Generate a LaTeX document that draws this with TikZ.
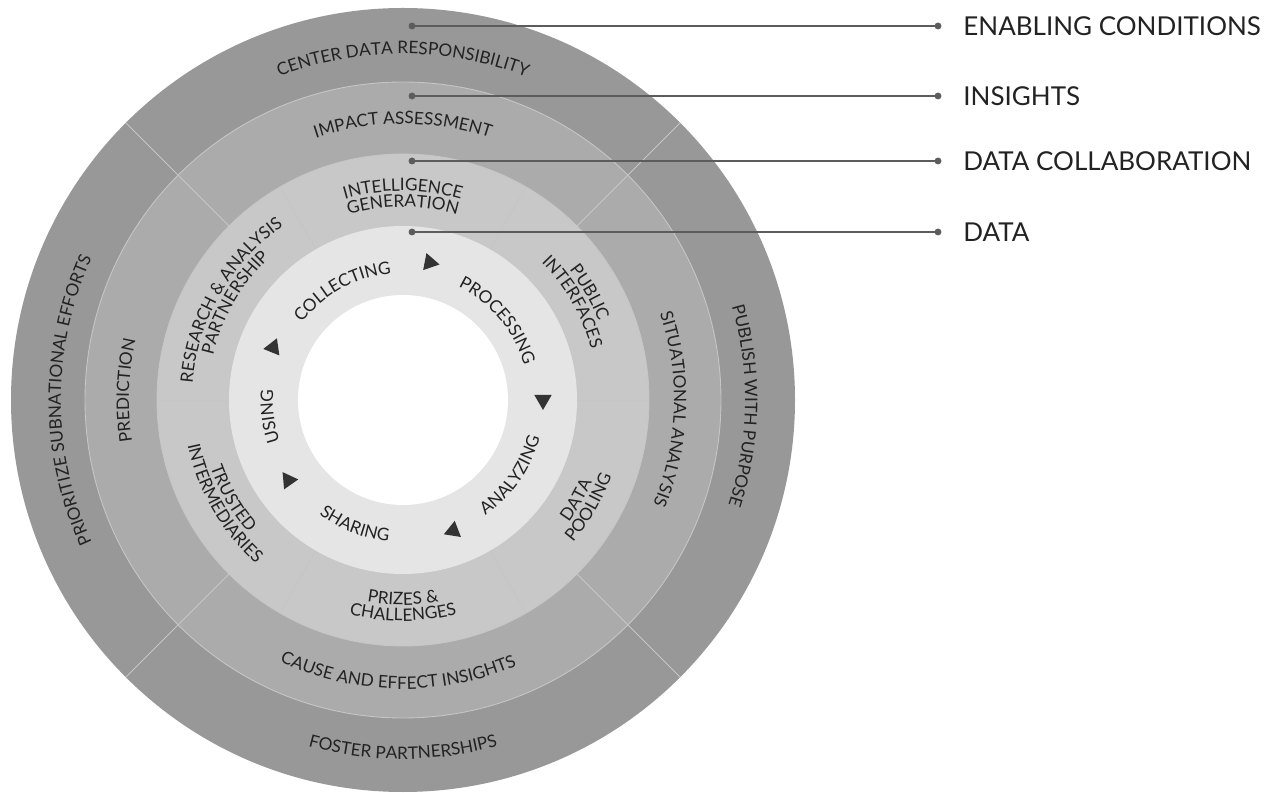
\documentclass[tikz,border=0pt]{standalone}
\usepackage{fontspec}
\setmainfont{Lato}
\usetikzlibrary{decorations.text,positioning}

\definecolor{ringouter}{HTML}{989898}
\definecolor{ringinsight}{HTML}{ABABAB}
\definecolor{ringcollab}{HTML}{C8C8C8}
\definecolor{ringdata}{HTML}{E5E5E5}
\definecolor{divgray}{HTML}{C6C6C6}
\definecolor{linegray}{HTML}{5C5C5C}
\definecolor{labelblack}{HTML}{222222}
\definecolor{trigray}{HTML}{333333}

\newcommand{\ringfont}{\fontsize{9.8}{11}\selectfont}
% text bent along a ring, read clockwise (tops out) or counter-clockwise (tops in)
\newcommand{\cwlabel}[3]{%
  \path[decorate,decoration={text along path,text align=center,text color=labelblack,
    text={|\ringfont|#3}}] ({#1+80}:#2) arc[start angle={#1+80},end angle={#1-80},radius=#2];}
\newcommand{\ccwlabel}[3]{%
  \path[decorate,decoration={text along path,text align=center,text color=labelblack,
    text={|\ringfont|#3}}] ({#1-80}:#2) arc[start angle={#1-80},end angle={#1+80},radius=#2];}

\begin{document}
\begin{tikzpicture}[x=0.02cm,y=0.02cm,
    sep/.style={draw=divgray,line width=0.5pt},
    legendline/.style={draw=linegray,fill=linegray,line width=0.9pt},
    legendtext/.style={font=\fontsize{14.8}{17}\selectfont,text=labelblack,inner sep=0pt},
    tri/.style={fill=trigray}]
  \useasboundingbox (-403,-393) rectangle (867,400);

  % rings
  \fill[ringouter] (0,0) circle (392);
  \fill[ringinsight] (0,0) circle (318);
  \fill[ringcollab] (0,0) circle (246);
  \fill[ringdata] (0,0) circle (174);
  \fill[white] (0,0) circle (105);
  \draw[sep] (0,0) circle (318) circle (246);
  \foreach \a in {45,135,225,315}
    \draw[sep] (\a:246) -- (\a:392);
  \foreach \a in {0,60,...,300}
    \draw[sep] (\a:174) -- (\a:246);

  % enabling conditions
  \cwlabel{90}{346}{CENTER DATA RESPONSIBILITY}
  \cwlabel{-1}{342}{PUBLISH WITH PURPOSE}
  \ccwlabel{270}{359}{FOSTER PARTNERSHIPS}
  \cwlabel{180}{342}{PRIORITIZE SUBNATIONAL EFFORTS}

  % insights
  \cwlabel{90}{276}{IMPACT ASSESSMENT}
  \cwlabel{-2}{271}{SITUATIONAL ANALYSIS}
  \ccwlabel{269}{289}{CAUSE AND EFFECT INSIGHTS}
  \cwlabel{178}{274}{PREDICTION}

  % data collaboration
  \cwlabel{90}{209}{INTELLIGENCE}
  \cwlabel{90}{193}{GENERATION}
  \cwlabel{30}{211}{PUBLIC}
  \cwlabel{30}{195}{INTERFACES}
  \ccwlabel{-30}{206}{DATA}
  \ccwlabel{-30}{222}{POOLING}
  \ccwlabel{270}{205}{PRIZES {\&}}
  \ccwlabel{270}{221}{CHALLENGES}
  \ccwlabel{210}{204}{TRUSTED}
  \ccwlabel{210}{220}{INTERMEDIARIES}
  \cwlabel{150}{211}{RESEARCH {\&} ANALYSIS}
  \cwlabel{150}{195}{PARTNERSHIP}

  % data cycle
  \cwlabel{119}{127}{COLLECTING}
  \cwlabel{40}{126}{PROCESSING}
  \ccwlabel{-35}{142}{ANALYZING}
  \ccwlabel{249}{142}{SHARING}
  \cwlabel{187}{130}{USING}
  \foreach \a in {79,0,-69,215,158}
    \fill[tri,shift={(\a:140)},rotate=\a-90] (0:10) -- (120:10) -- (240:10) -- cycle;

  % legend
  \foreach \name/\y/\txt in {ec/374/ENABLING CONDITIONS,ins/304/INSIGHTS,
                             dc/239/DATA COLLABORATION,dat/168/DATA}{
    \coordinate (\name-in) at (9,\y);
    \coordinate (\name-out) at (535,\y);
    \node[legendtext,right=0.5cm of \name-out] (\name) {\txt};
    \draw[legendline] (\name-in) -- (\name-out);
    \fill[legendline] (\name-in) circle (2.6) (\name-out) circle (2.6);
  }
\end{tikzpicture}
\end{document}
